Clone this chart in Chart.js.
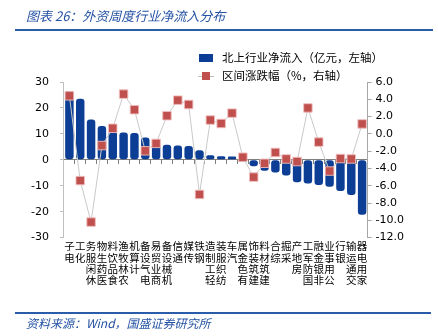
<!DOCTYPE html>
<html><head><meta charset="utf-8">
<script src="https://cdn.jsdelivr.net/npm/chart.js@4"></script>
<style>
html,body{margin:0;padding:0;background:#fff;}
#wrap{position:relative;width:438px;height:336px;overflow:hidden;background:#fff;}
#c{position:absolute;left:0;top:0;}
.it{position:absolute;font-family:"Noto Sans CJK SC";font-style:italic;color:#2452A4;white-space:nowrap;line-height:1;}
.lg{position:absolute;font-family:"Noto Sans CJK SC";color:#000;white-space:nowrap;font-size:11.5px;line-height:1;}
.bl{position:absolute;}
</style></head>
<body>
<div id="wrap">
<canvas id="c" width="438" height="336"></canvas>
<div class="it" style="left:26px;top:9px;font-size:13px;">图表 26：外资周度行业净流入分布</div>
<div class="bl" style="left:15px;top:29px;width:418px;height:1.5px;background:#2A5CAA;"></div>
<div class="bl" style="left:199px;top:54px;width:14px;height:8px;background:#0B3E94;"></div>
<div class="lg" style="left:222px;top:52px;">北上行业净流入（亿元，左轴）</div>
<div class="bl" style="left:198px;top:76px;width:16px;height:1px;background:#BFBFBF;"></div>
<div class="bl" style="left:202px;top:72px;width:8px;height:8px;background:#C0504D;"></div>
<div class="lg" style="left:222px;top:70px;">区间涨跌幅（%，右轴）</div>
<div class="bl" style="left:15px;top:312px;width:416px;height:1.5px;background:#2A5CAA;"></div>
<div class="it" style="left:26px;top:317px;font-size:12px;">资料来源：Wind，国盛证券研究所</div>
</div>
<script>
const categories = ['电子','化工','休闲服务','医药生物','食品饮料','农林牧渔','计算机','电气设备','商业贸易','机械设备','通信','传媒','钢铁','轻工制造','纺织服装','汽车','有色金属','建筑装饰','建筑材料','综合','采掘','房地产','国防军工','非银金融','公用事业','银行','交通运输','家用电器'];
const netInflow = [26.5,23.5,15.5,13.0,11.0,10.5,10.3,8.6,6.5,5.8,5.5,5.3,3.7,1.8,1.4,1.3,-0.8,-2.5,-4.2,-4.9,-6.0,-8.6,-9.1,-9.7,-10.4,-12.0,-13.6,-21.2];
const periodChange = [4.4,-5.4,-10.2,-1.35,0.65,4.6,2.8,-1.96,-1.1,2.1,3.9,3.4,-7.0,1.6,1.2,2.4,-2.7,-5.0,-3.4,-2.15,-2.9,-3.2,3.0,-0.95,-4.3,-2.85,-2.9,1.15];
const leftTicks = [-30,-20,-10,0,10,20,30];
const rightTicks = [-12,-10,-8,-6,-4,-2,0,2,4,6];

const stackedLabels = categories.map(s => s.split('').reverse());
const numFont = {family:'DejaVu Sans', size:11};

new Chart(document.getElementById('c'), {
  data: {
    labels: stackedLabels,
    datasets: [
      {type:'line', label:'区间涨跌幅（%，右轴）', data: periodChange, yAxisID:'y1', xAxisID:'x',
       borderColor:'#C9C9C9', borderWidth:1, pointStyle:'rect', pointRadius:6,
       pointBackgroundColor:'#C0504D', pointBorderColor:'rgba(240,190,190,0.9)', pointBorderWidth:1,
       tension:0, order:0},
      {type:'bar', label:'北上行业净流入（亿元，左轴）', data: netInflow, yAxisID:'y', xAxisID:'x',
       backgroundColor:'#0B3E94', borderRadius:3, borderSkipped:false,
       barPercentage:0.95, categoryPercentage:0.82, order:1}
    ]
  },
  options: {
    responsive:false, animation:false, devicePixelRatio:1,
    layout:{padding:{top:82, left:20, right:30, bottom:47}},
    plugins:{legend:{display:false}, tooltip:{enabled:false}},
    scales:{
      x:{type:'category', position:'bottom', offset:true,
         grid:{display:false, drawTicks:false, tickLength:0}, border:{display:false},
         ticks:{autoSkip:false, maxRotation:0, minRotation:0, padding:3, color:'#000',
                font:{family:'Noto Sans CJK SC', size:10.5, lineHeight:1.08}}},
      x2:{type:'category', position:{y:0}, offset:true,
         grid:{offset:true, drawOnChartArea:false, drawTicks:true, tickLength:4, color:'#7F7F7F'},
         border:{display:true, color:'#7F7F7F', width:1},
         ticks:{display:false}},
      y:{type:'linear', position:'left', min:-30, max:30,
         afterBuildTicks: s => { s.ticks = leftTicks.map(v => ({value:v})); },
         grid:{drawOnChartArea:false, drawTicks:true, tickLength:4, color:'#BFBFBF'},
         border:{display:true, color:'#BFBFBF'},
         ticks:{padding:11, color:'#000', font:numFont}},
      y1:{type:'linear', position:'right', min:-12, max:6,
         afterBuildTicks: s => { s.ticks = rightTicks.map(v => ({value:v})); },
         grid:{drawOnChartArea:false, drawTicks:true, tickLength:4, color:'#A6A6A6'},
         border:{display:true, color:'#A6A6A6'},
         ticks:{padding:4, color:'#000', font:numFont, callback: v => Number(v).toFixed(1)}}
    }
  }
});
</script>
</body></html>
